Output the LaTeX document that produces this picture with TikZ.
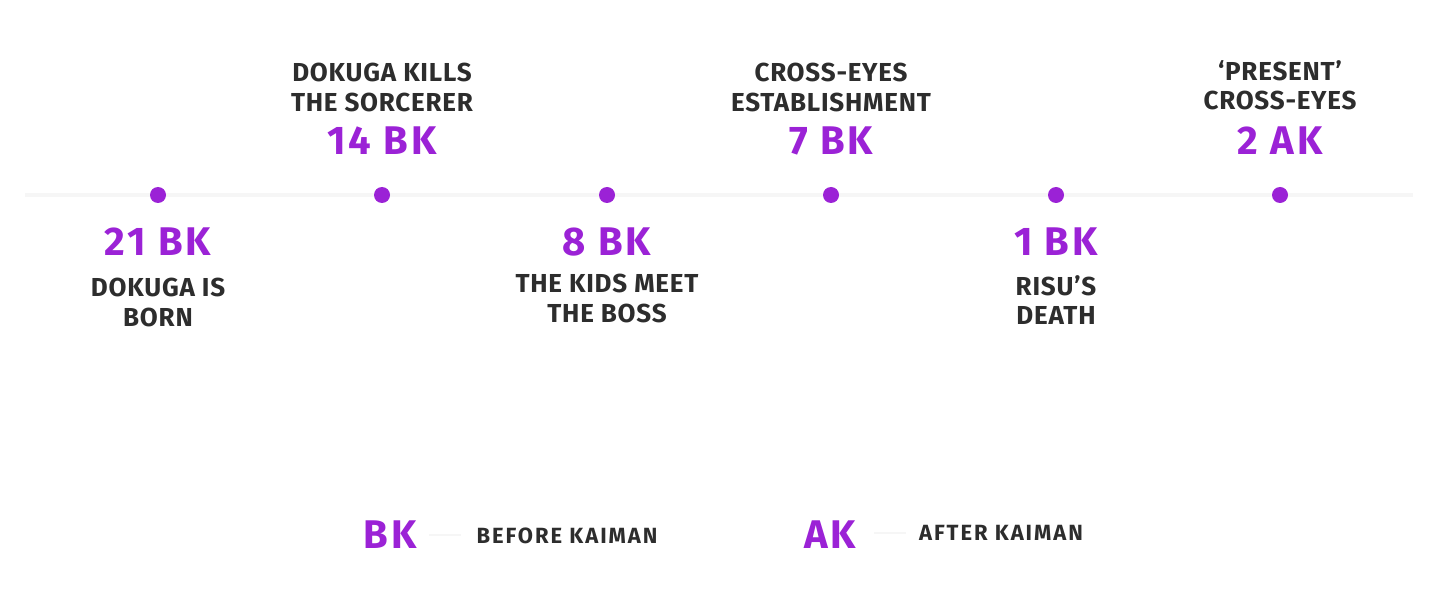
\documentclass[tikz,border=0pt]{standalone}
\usepackage{fontspec}
\setmainfont{Fira Sans}
\newfontfamily\yearfont{Fira Sans}[LetterSpace=7.0]
\newfontfamily\eventfont{Fira Sans}[LetterSpace=3.0]
\newfontfamily\keyfont{Fira Sans}[LetterSpace=9.0]
\definecolor{eventpurple}{HTML}{9B22D6}
\definecolor{eventgray}{HTML}{2D2D2D}
\definecolor{lanegray}{HTML}{F6F6F6}
\begin{document}
\begin{tikzpicture}[x=0.5pt,y=-0.5pt]
    \tikzstyle{dot}=[circle,fill=eventpurple,minimum size=8pt,inner sep=0pt]
    \tikzstyle{year}=[anchor=north,inner sep=0pt,text=eventpurple,font=\yearfont\fontsize{20}{24}\selectfont\bfseries]
    \tikzstyle{event}=[anchor=north,inner sep=0pt,align=center,text=eventgray,font=\eventfont\fontsize{13}{14.8}\selectfont\bfseries]
    \tikzstyle{keytext}=[anchor=north,inner sep=0pt,text=eventgray,font=\keyfont\fontsize{11}{13}\selectfont\bfseries]
    \useasboundingbox[fill=white] (0,0) rectangle (1439,609);
    % time line
    \coordinate (start) at (25,195);
    \coordinate (stop) at (1413,195);
    \draw[lanegray,line width=2pt] (start)--(stop);
    \node[dot] (d1) at (158,195) {};
    \node[dot] (d2) at (382,195) {};
    \node[dot] (d3) at (607,195) {};
    \node[dot] (d4) at (831,195) {};
    \node[dot] (d5) at (1056,195) {};
    \node[dot] (d6) at (1280,195) {};
    % below the line
    \node[year] (y1) at (158,227) {21 BK};
    \node[event] (e1) at (158,278) {DOKUGA IS\\BORN};
    \node[year] (y3) at (607,227) {8 BK};
    \node[event] (e3) at (607,274) {THE KIDS MEET\\THE BOSS};
    \node[year] (y5) at (1056,227) {1 BK};
    \node[event] (e5) at (1056,275) {RISU’S\\DEATH};
    % above the line
    \node[event] (e2) at (382,63) {DOKUGA KILLS\\THE SORCERER};
    \node[year] (y2) at (382,126) {14 BK};
    \node[event] (e4) at (831,63) {CROSS-EYES\\ESTABLISHMENT};
    \node[year] (y4) at (831,126) {7 BK};
    \node[event] (e6) at (1280,60) {‘PRESENT’\\CROSS-EYES};
    \node[year] (y6) at (1280,126) {2 AK};
    % key
    \node[year] (bk) at (390,520) {BK};
    \node[keytext] (bktext) at (567,527) {BEFORE KAIMAN};
    \coordinate (bkfrom) at (429,535);
    \coordinate (bkto) at (461,535);
    \draw[lanegray,line width=1pt] (bkfrom)--(bkto);
    \node[year] (ak) at (830,520) {AK};
    \node[keytext] (aktext) at (1001,525) {AFTER KAIMAN};
    \coordinate (akfrom) at (874,533);
    \coordinate (akto) at (906,533);
    \draw[lanegray,line width=1pt] (akfrom)--(akto);
  \end{tikzpicture}
\end{document}
